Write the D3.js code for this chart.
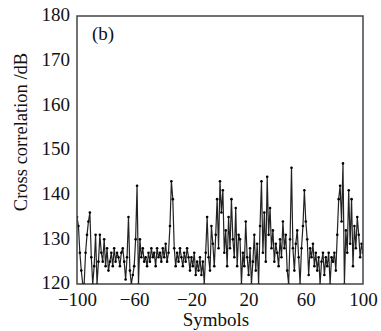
<!DOCTYPE html>
<html>
<head>
<meta charset="utf-8">
<script src="https://cdn.jsdelivr.net/npm/d3@7"></script>
<style>
  body { margin: 0; background: #fff; }
  text { font-family: "Liberation Serif", "DejaVu Serif", serif; fill: #111; }
</style>
</head>
<body>
<div id="chart"></div>
<script>
const symbolStart = -100;
// cross correlation per symbol (dB), symbols -100 .. 100
const crossCorr = [
  135, 133, 127, 123, 120, 120, 127, 131, 134, 136,
  126, 120, 124, 131, 120, 125, 131, 127, 125, 130,
  124, 128, 123, 125, 127, 124, 128, 125, 127, 126,
  124, 127, 128, 125, 121, 126, 135, 123, 120, 122,
  124, 130, 142, 120, 130, 126, 128, 125, 126, 124,
  127, 125, 128, 126, 127, 124, 128, 126, 127, 125,
  128, 126, 129, 125, 127, 133, 143, 139, 128, 124,
  127, 125, 128, 126, 124, 127, 125, 128, 126, 123,
  126, 124, 127, 122, 125, 123, 126, 122, 125, 120,
  127, 135, 126, 123, 133, 129, 124, 131, 139, 128,
  143, 136, 141, 127, 132, 124, 135, 128, 139, 130,
  126, 137, 124, 131, 130, 120, 127, 124, 134, 126,
  122, 128, 120, 125, 131, 123, 129, 120, 133, 143,
  127, 136, 125, 144, 131, 137, 128, 132, 125, 129,
  127, 124, 130, 126, 134, 128, 131, 123, 120, 130,
  146, 128, 123, 129, 132, 126, 120, 128, 133, 141,
  134, 130, 122, 128, 126, 129, 124, 127, 123, 126,
  120, 125, 127, 122, 126, 124, 127, 120, 126, 125,
  127, 123, 131, 139, 142, 134, 147, 120, 132, 127,
  141, 129, 139, 124, 133, 128, 135, 131, 126, 129,
  127
];
const xTicks = [-100, -60, -20, 20, 60, 100];
const yTicks = [120, 130, 140, 150, 160, 170, 180];
const panelLabel = '(b)';
const xTitle = 'Symbols';
const yTitle = 'Cross correlation /dB';

const width = 381;
const height = 331;
const margin = { top: 16, right: 18, bottom: 47, left: 77 };
const innerW = width - margin.left - margin.right;
const innerH = height - margin.top - margin.bottom;

const data = crossCorr.map((v, i) => ({ s: symbolStart + i, v }));

const svg = d3.select('#chart')
  .append('svg')
  .attr('width', width)
  .attr('height', height);

const g = svg.append('g')
  .attr('transform', `translate(${margin.left},${margin.top})`);

const x = d3.scaleLinear().domain([-100, 100]).range([0, innerW]);
const y = d3.scaleLinear().domain([120, 180]).range([innerH, 0]);

svg.append('clipPath').attr('id', 'plot-clip')
  .append('rect').attr('width', innerW).attr('height', innerH);

const plot = g.append('g').attr('clip-path', 'url(#plot-clip)');

const line = d3.line()
  .x(d => x(d.s))
  .y(d => y(d.v));

plot.append('path')
  .datum(data)
  .attr('d', line)
  .attr('fill', 'none')
  .attr('stroke', '#222')
  .attr('stroke-width', 1.2);

plot.selectAll('circle')
  .data(data)
  .enter()
  .append('circle')
  .attr('cx', d => x(d.s))
  .attr('cy', d => y(d.v))
  .attr('r', 1.3)
  .attr('fill', '#000');

// frame
g.append('rect')
  .attr('width', innerW)
  .attr('height', innerH)
  .attr('fill', 'none')
  .attr('stroke', '#444')
  .attr('stroke-width', 1.5);

const fmt = d => d < 0 ? '\u2212' + Math.abs(d) : String(d);

const xAxis = g.append('g')
  .attr('transform', `translate(0,${innerH})`)
  .call(d3.axisBottom(x).tickValues(xTicks).tickSize(0).tickPadding(8).tickFormat(fmt));
xAxis.select('.domain').remove();
xAxis.selectAll('text')
  .style('font-size', '19px')
  .attr('dy', '0.74em')
  .attr('fill', '#111');

const yAxis = g.append('g')
  .call(d3.axisLeft(y).tickValues(yTicks).tickSize(0).tickPadding(7));
yAxis.select('.domain').remove();
yAxis.selectAll('text')
  .style('font-size', '19px')
  .attr('dy', '0.26em')
  .attr('fill', '#111');

svg.append('text')
  .attr('x', margin.left + 15)
  .attr('y', margin.top + 24)
  .style('font-size', '19px')
  .text(panelLabel);

svg.append('text')
  .attr('x', margin.left + innerW / 2 - 4)
  .attr('y', 326)
  .attr('text-anchor', 'middle')
  .style('font-size', '19px')
  .text(xTitle);

svg.append('text')
  .attr('transform', `translate(27,${margin.top + 116}) rotate(-90)`)
  .attr('text-anchor', 'middle')
  .style('font-size', '18.5px')
  .text(yTitle);
</script>
</body>
</html>
